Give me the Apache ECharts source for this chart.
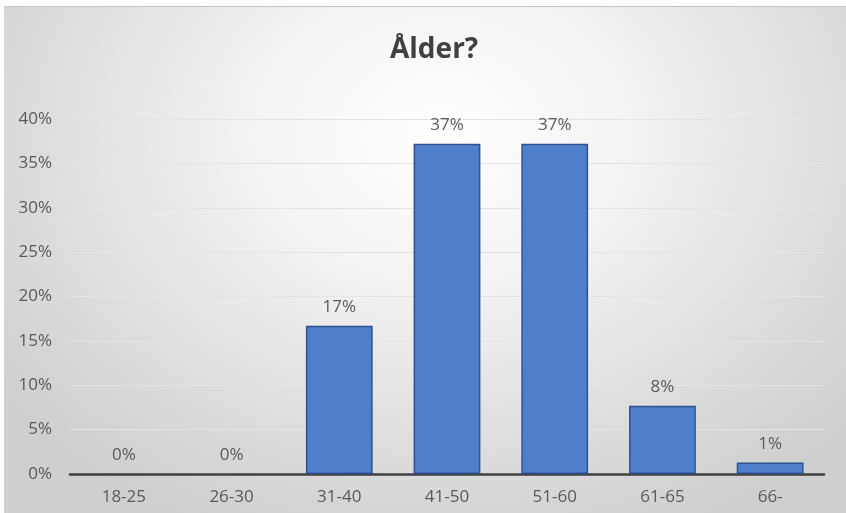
<!DOCTYPE html>
<html>
<head>
<meta charset="utf-8">
<script src="https://cdn.jsdelivr.net/npm/echarts@6/dist/echarts.min.js"></script>
<style>
html,body{margin:0;padding:0;background:#fff;width:846px;height:513px;overflow:hidden;}
#chart{position:absolute;left:4px;top:6px;width:842px;height:507px;border-top:1px solid #c4c4c4;
background:radial-gradient(ellipse 65% 85% at 52% 25%, #ffffff 0%, #f3f3f3 35%, #dcdcdc 75%, #cfcfcf 100%);}
</style>
</head>
<body>
<div id="chart"></div>
<script>
var categories = ['18-25','26-30','31-40','41-50','51-60','61-65','66-'];
var values = [0, 0, 0.167, 0.372, 0.372, 0.077, 0.013];
var titleText = 'Ålder?';

var chart = echarts.init(document.getElementById('chart'), null, {renderer:'canvas'});
var seriesData = values.map(function(v){
  return v === 0 ? {value: v, itemStyle: {borderWidth: 0}} : v;
});
chart.setOption({
  backgroundColor: 'transparent',
  animation: false,
  title: {
    text: titleText, left: 381, top: 24,
    textStyle: {fontFamily: 'Open Sans', fontSize: 28, fontWeight: 'bold', color: '#404040'}
  },
  grid: {left: 66, right: 22, top: 112, bottom: 40},
  xAxis: {
    type: 'category', data: categories,
    axisLine: {lineStyle: {color: '#404040', width: 2.5}},
    axisTick: {show: false},
    axisLabel: {fontFamily: 'Open Sans', fontSize: 17, color: '#595959', margin: 15}
  },
  yAxis: {
    type: 'value', min: 0, max: 0.4, interval: 0.05,
    axisLine: {show: false}, axisTick: {show: false},
    splitLine: {lineStyle: {color: '#e4e4e4', width: 1}},
    axisLabel: {fontFamily: 'Open Sans', fontSize: 17, color: '#595959', margin: 18,
      formatter: function(v){ return Math.round(v*100) + '%'; }}
  },
  series: [{
    type: 'bar', data: seriesData, barWidth: '62%',
    itemStyle: {color: '#4f7ecb', borderColor: '#2f528f', borderWidth: 1.5},
    label: {show: true, position: 'top', distance: 10, fontFamily: 'Open Sans', fontSize: 17, color: '#595959',
      formatter: function(p){ return Math.round(p.value*100) + '%'; }}
  }]
});
</script>
</body>
</html>
